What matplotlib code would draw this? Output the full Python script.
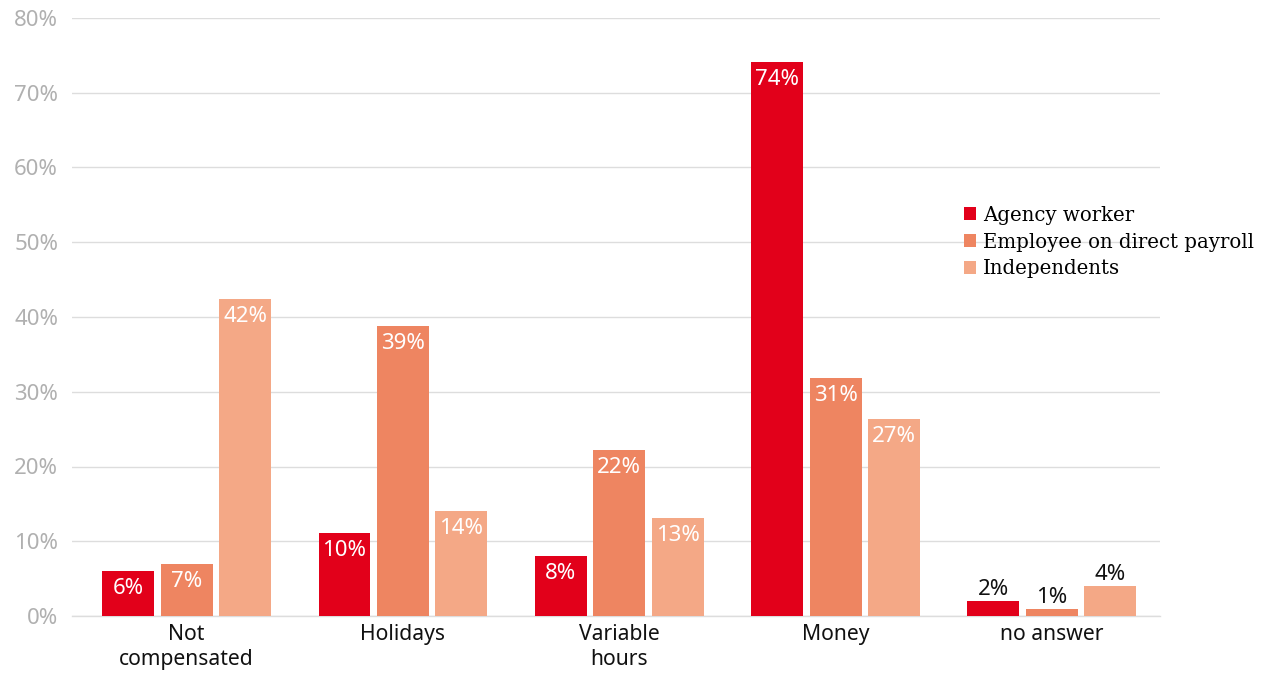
import matplotlib
matplotlib.use("Agg")
import matplotlib.pyplot as plt
import numpy as np

categories = ["Not\ncompensated", "Holidays", "Variable\nhours", "Money", "no answer"]
series_names = ["Agency worker", "Employee on direct payroll", "Independents"]
agency = [6.0, 11.1, 8.0, 74.1, 2.0]
employee = [7.0, 38.8, 22.2, 31.8, 0.9]
independents = [42.4, 14.0, 13.1, 26.4, 4.0]
agency_labels = ["6%", "10%", "8%", "74%", "2%"]
employee_labels = ["7%", "39%", "22%", "31%", "1%"]
independents_labels = ["42%", "14%", "13%", "27%", "4%"]
yticks = [0, 10, 20, 30, 40, 50, 60, 70, 80]

colors = ["#E2001A", "#EE8561", "#F4A886"]
sans = ["Noto Sans", "DejaVu Sans"]

fig = plt.figure(figsize=(12.67, 6.75), dpi=100)
ax = fig.add_axes([72 / 1267, 59 / 675, (1160 - 72) / 1267, (616 - 18) / 675])

x = np.arange(len(categories))
width = 0.24
step = 0.27
values = [agency, employee, independents]
labels = [agency_labels, employee_labels, independents_labels]

bars_all = []
for i, (vals, labs) in enumerate(zip(values, labels)):
    bars = ax.bar(x + (i - 1) * step, vals, width, color=colors[i], label=series_names[i], zorder=3)
    bars_all.append(bars)
    for b, v, lab in zip(bars, vals, labs):
        cx = b.get_x() + b.get_width() / 2
        if v > 5:
            ax.annotate(lab, (cx, v), xytext=(0, -5), textcoords="offset points",
                        ha="center", va="top", color="white", fontsize=16, family=sans, zorder=4)
        else:
            ax.annotate(lab, (cx, v), xytext=(0, 1), textcoords="offset points",
                        ha="center", va="bottom", color="#111111", fontsize=16, family=sans, zorder=4)

ax.set_ylim(0, 80)
ax.set_xlim(-0.53, 4.5)
ax.set_yticks(yticks)
ax.set_yticklabels([f"{t}%" for t in yticks], color="#B0B0B0", fontsize=16, family=sans)
ax.set_xticks(x)
ax.set_xticklabels(categories, fontsize=15.2, family=sans, color="#111111", linespacing=1.22)
ax.tick_params(axis="both", length=0)
ax.tick_params(axis="y", pad=10)
ax.tick_params(axis="x", pad=6)
ax.grid(axis="y", color="#DDDDDD", linewidth=1.0, zorder=0)
for s in ["top", "right", "left"]:
    ax.spines[s].set_visible(False)
ax.spines["bottom"].set_color("#DDDDDD")
ax.spines["bottom"].set_linewidth(1.0)

fig.legend(handles=bars_all, labels=series_names, loc="center left",
           bbox_to_anchor=(964 / 1267, 1 - 242 / 675), frameon=False,
           prop={"family": "DejaVu Serif", "size": 14.2},
           handlelength=0.6, handleheight=0.6, handletextpad=0.35, labelspacing=0.4,
           borderaxespad=0, borderpad=0)

fig.savefig("out.png", dpi=100, facecolor="white")
